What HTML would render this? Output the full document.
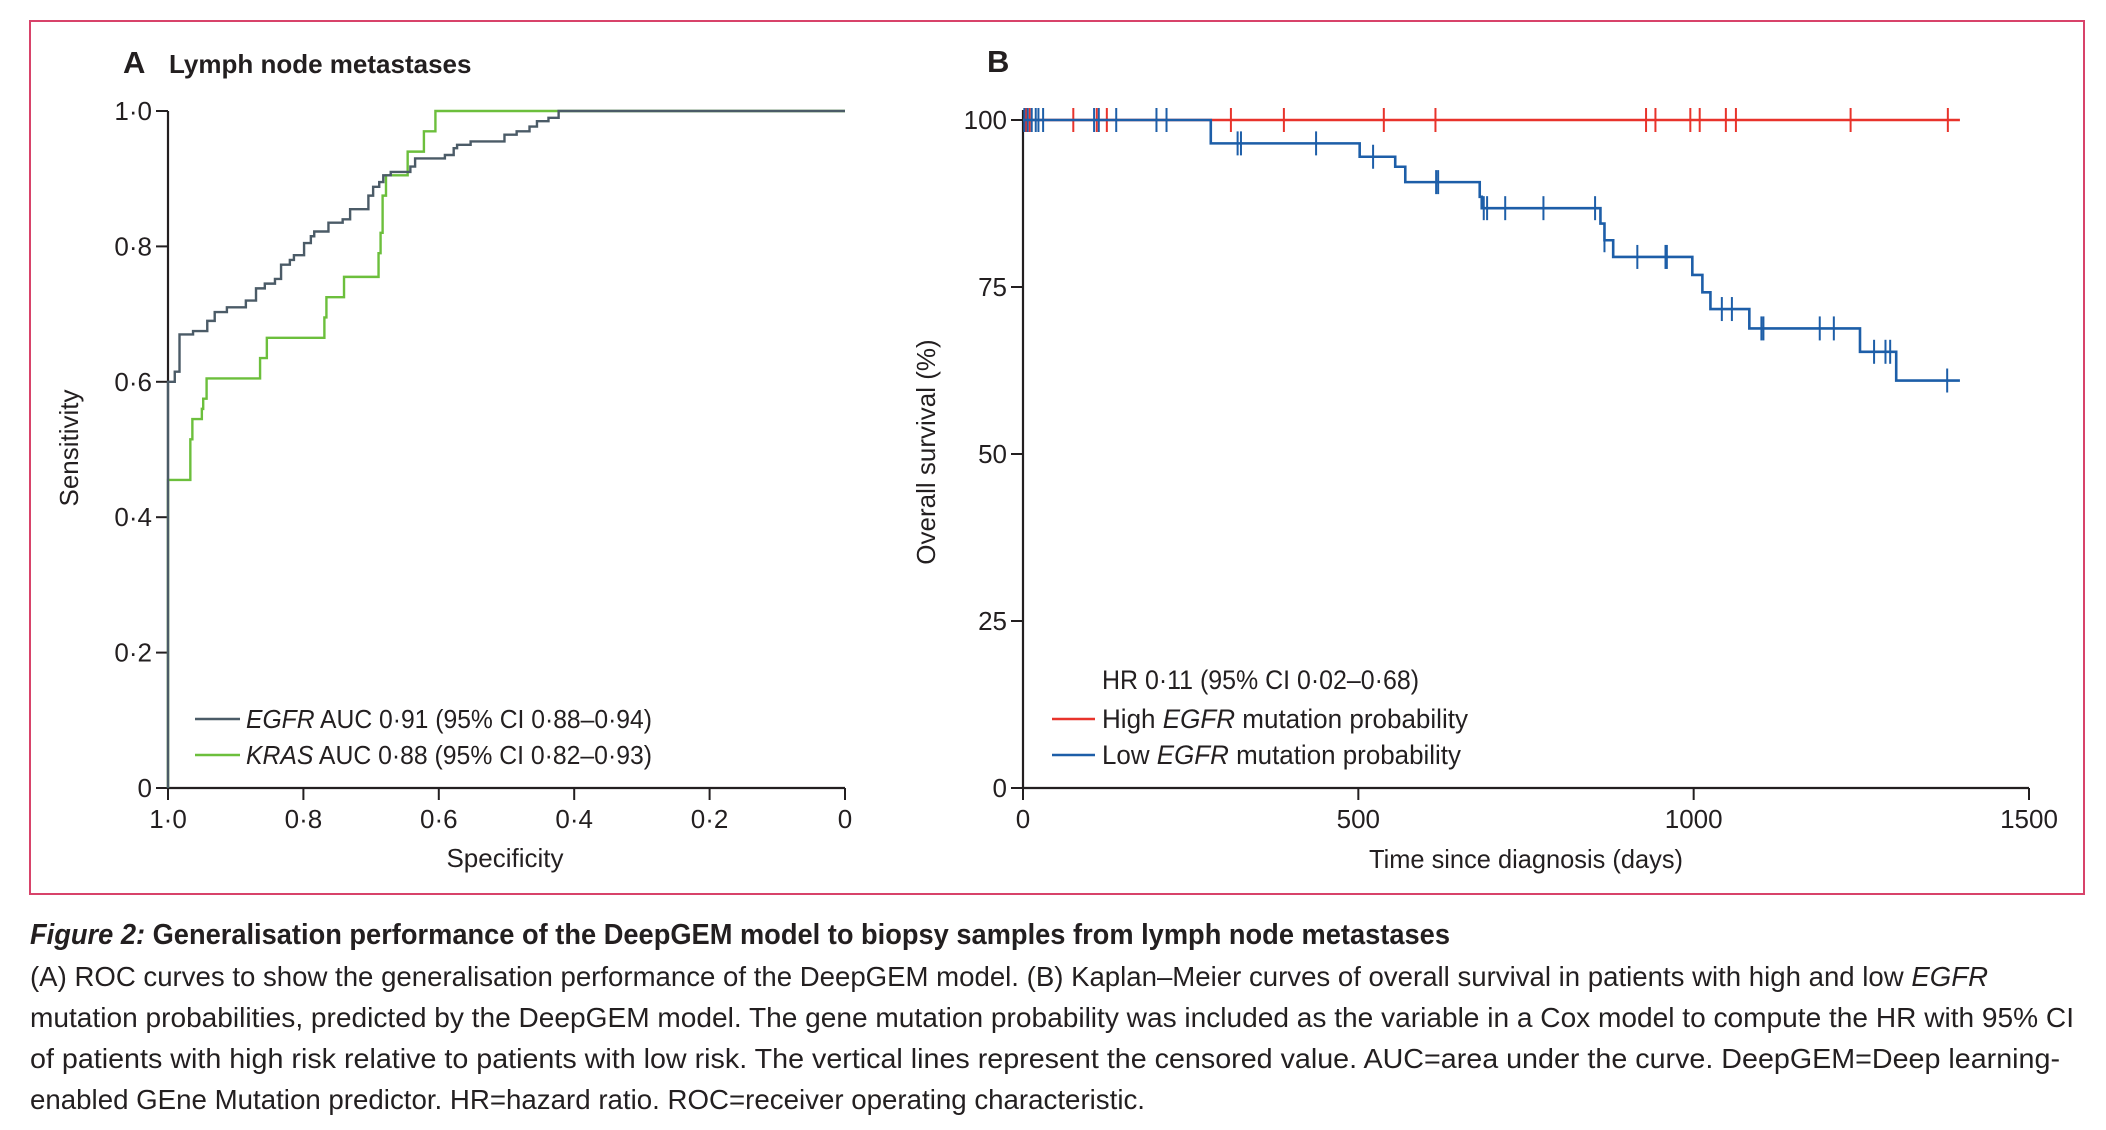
<!DOCTYPE html>
<html><head><meta charset="utf-8"><style>
body{margin:0;background:#fff}
svg{display:block}
text{font-family:"Liberation Sans Narrow","Liberation Sans",sans-serif;fill:#231f20}
</style></head><body>
<svg id="fig" width="2106" height="1130" viewBox="0 0 2106 1130">
<rect x="30" y="21" width="2054" height="873" fill="none" stroke="#d8436a" stroke-width="2"/>
<g id="roc"></g>
<g id="km"></g>
<g>
<text x="30" y="944" font-size="29" font-weight="bold" textLength="1420" lengthAdjust="spacingAndGlyphs"><tspan font-style="italic">Figure 2:</tspan> Generalisation performance of the DeepGEM model to biopsy samples from lymph node metastases</text>
<text x="30" y="986" font-size="28" textLength="1958" lengthAdjust="spacingAndGlyphs">(A) ROC curves to show the generalisation performance of the DeepGEM model. (B) Kaplan–Meier curves of overall survival in patients with high and low <tspan font-style="italic">EGFR</tspan></text>
<text x="30" y="1027" font-size="28" textLength="2044" lengthAdjust="spacingAndGlyphs">mutation probabilities, predicted by the DeepGEM model. The gene mutation probability was included as the variable in a Cox model to compute the HR with 95% CI</text>
<text x="30" y="1068" font-size="28" textLength="2030" lengthAdjust="spacingAndGlyphs">of patients with high risk relative to patients with low risk. The vertical lines represent the censored value. AUC=area under the curve. DeepGEM=Deep learning-</text>
<text x="30" y="1109" font-size="28" textLength="1115" lengthAdjust="spacingAndGlyphs">enabled GEne Mutation predictor. HR=hazard ratio. ROC=receiver operating characteristic.</text>
</g>
</svg>
<script>
// ROC data: specificity steps and sensitivity after each step
const egfrSpec=[1,0.99,0.983,0.963,0.942,0.931,0.913,0.885,0.87,0.857,0.842,0.833,0.82,0.814,0.799,0.789,0.784,0.763,0.742,0.731,0.704,0.697,0.688,0.682,0.671,0.642,0.635,0.591,0.578,0.573,0.553,0.503,0.485,0.466,0.455,0.438,0.423,0];
const egfrSens=[0.6,0.615,0.67,0.675,0.69,0.703,0.71,0.72,0.738,0.745,0.752,0.773,0.78,0.787,0.805,0.815,0.822,0.835,0.84,0.855,0.875,0.888,0.895,0.905,0.91,0.918,0.93,0.935,0.945,0.95,0.955,0.965,0.97,0.977,0.985,0.99,1,1];
const krasSpec=[1,0.967,0.964,0.95,0.948,0.943,0.864,0.854,0.769,0.766,0.74,0.689,0.686,0.683,0.678,0.646,0.622,0.605,0];
const krasSens=[0.455,0.515,0.545,0.56,0.575,0.605,0.635,0.665,0.695,0.725,0.755,0.79,0.82,0.875,0.905,0.94,0.97,1,1];
const rocTicks=[0,0.2,0.4,0.6,0.8,1];
const rocTickLabels=["0","0·2","0·4","0·6","0·8","1·0"];
// KM data
const blueTimes=[0,280,502,555,570,681,684,861,867,880,998,1013,1025,1083,1248,1302,1397];
const blueSurv=[100,96.5,94.5,93,90.7,88.5,86.8,84.5,82,79.5,76.8,74.2,71.7,68.8,65.3,61,61];
const blueCensorT=[2,7,13,19,23,30,106,113,139,199,214,320,325,437,522,616,619,687,692,719,776,853,867,916,958,960,1042,1057,1101,1104,1188,1209,1269,1286,1293,1378];
const redTimes=[0,1397];
const redSurv=[100,100];
const redCensorT=[3,5,10,75,110,125,310,389,538,615,929,943,995,1009,1048,1063,1234,1379];
const kmXTicks=[0,500,1000,1500];
const kmYTicks=[0,25,50,75,100];

const NS="http://www.w3.org/2000/svg";
function mk(parent,tag,attrs,txt){const e=document.createElementNS(NS,tag);for(const k in attrs)e.setAttribute(k,attrs[k]);if(txt!==undefined)e.textContent=txt;parent.appendChild(e);return e;}

// ROC axes
const rx=s=>168+(1-s)*(845-168);
const ry=v=>788-v*(788-111);
const roc=document.getElementById('roc');
let t=mk(roc,'text',{x:123,y:73,'font-size':31,'font-weight':'bold','font-family':'Liberation Sans'},'A');


t=mk(roc,'text',{x:169,y:73,'font-size':26,'font-weight':'bold','font-family':'Liberation Sans'},'Lymph node metastases');


let ax=mk(roc,'path',{d:`M${rx(1)} ${ry(1)}V${ry(0)}H${rx(0)}`,fill:'none',stroke:'#231f20','stroke-width':2.2});


rocTicks.forEach((v,i)=>{
  let l=mk(roc,'line',{x1:rx(1)-12,x2:rx(1),y1:ry(v),y2:ry(v),stroke:'#231f20','stroke-width':2});
  
  
  let tx=mk(roc,'text',{x:rx(1)-16,y:ry(v)+9,'font-size':26,'text-anchor':'end','font-family':'Liberation Sans'},rocTickLabels[i]);
  
  
  let l2=mk(roc,'line',{x1:rx(v),x2:rx(v),y1:ry(0),y2:ry(0)+12,stroke:'#231f20','stroke-width':2});
  
  
  let tx2=mk(roc,'text',{x:rx(v),y:ry(0)+40,'font-size':26,'text-anchor':'middle','font-family':'Liberation Sans'},rocTickLabels[i]);
  
  
});
t=mk(roc,'text',{x:505,y:867,'font-size':26,'text-anchor':'middle','font-family':'Liberation Sans'},'Specificity');


t=mk(roc,'text',{x:0,y:0,'font-size':26,'text-anchor':'middle','font-family':'Liberation Sans',transform:'translate(78,448) rotate(-90)'},'Sensitivity');


function rocPath(sp,se){let d=`M${rx(1)} ${ry(0)}V${ry(se[0])}`;for(let i=1;i<sp.length;i++){d+=`H${rx(sp[i])}V${ry(se[i])}`;}return d;}
let p=mk(roc,'path',{d:rocPath(krasSpec,krasSens),fill:'none',stroke:'#6cbf3c','stroke-width':2.4});


p=mk(roc,'path',{d:rocPath(egfrSpec,egfrSens),fill:'none',stroke:'#4b5b67','stroke-width':2.4});


let lg=mk(roc,'line',{x1:195,x2:240,y1:719,y2:719,stroke:'#4b5b67','stroke-width':2.4});


t=mk(roc,'text',{x:246,y:728,'font-size':26,textLength:406,lengthAdjust:'spacingAndGlyphs'});
t.innerHTML='<tspan font-style="italic">EGFR</tspan> AUC 0·91 (95% CI 0·88–0·94)';


lg=mk(roc,'line',{x1:195,x2:240,y1:755,y2:755,stroke:'#6cbf3c','stroke-width':2.4});


t=mk(roc,'text',{x:246,y:764,'font-size':26,textLength:406,lengthAdjust:'spacingAndGlyphs'});
t.innerHTML='<tspan font-style="italic">KRAS</tspan> AUC 0·88 (95% CI 0·82–0·93)';



// KM
const kx=d=>1023+d*(2029-1023)/1500;
const ky=v=>788-v*(788-120)/100;
const km=document.getElementById('km');
t=mk(km,'text',{x:987,y:72,'font-size':31,'font-weight':'bold','font-family':'Liberation Sans'},'B');


ax=mk(km,'path',{d:`M${kx(0)} ${ky(100)-10}V${ky(0)}H${kx(1500)}`,fill:'none',stroke:'#231f20','stroke-width':2.2});


kmYTicks.forEach(v=>{
  let l=mk(km,'line',{x1:kx(0)-12,x2:kx(0),y1:ky(v),y2:ky(v),stroke:'#231f20','stroke-width':2});
  
  
  let tx=mk(km,'text',{x:kx(0)-16,y:ky(v)+9,'font-size':26,'text-anchor':'end'},String(v));
  
  
});
kmXTicks.forEach(v=>{
  let l=mk(km,'line',{x1:kx(v),x2:kx(v),y1:ky(0),y2:ky(0)+12,stroke:'#231f20','stroke-width':2});
  
  
  let tx=mk(km,'text',{x:kx(v),y:ky(0)+40,'font-size':26,'text-anchor':'middle'},String(v));
  
  
});
t=mk(km,'text',{x:1526,y:868,'font-size':26,'text-anchor':'middle',textLength:314,lengthAdjust:'spacingAndGlyphs'},'Time since diagnosis (days)');


t=mk(km,'text',{x:0,y:0,'font-size':26,'text-anchor':'middle','font-family':'Liberation Sans',transform:'translate(935,452) rotate(-90)'},'Overall survival (%)');


function stepPath(ts,ss){let d=`M${kx(ts[0])} ${ky(ss[0])}`;for(let i=1;i<ts.length;i++){d+=`H${kx(ts[i])}V${ky(ss[i])}`;}return d;}
function survAt(ts,ss,tt){let s=ss[0];for(let i=0;i<ts.length;i++){if(ts[i]<=tt)s=ss[i];}return s;}
p=mk(km,'path',{d:stepPath(redTimes,redSurv),fill:'none',stroke:'#e8332b','stroke-width':2.4});


redCensorT.forEach(c=>{
  const y=ky(survAt(redTimes,redSurv,c));
  let l=mk(km,'line',{x1:kx(c),x2:kx(c),y1:y-12,y2:y+12,stroke:'#e8332b','stroke-width':2});
  
  
});
p=mk(km,'path',{d:stepPath(blueTimes,blueSurv),fill:'none',stroke:'#1d5ea8','stroke-width':2.6});


blueCensorT.forEach(c=>{
  const y=ky(survAt(blueTimes,blueSurv,c));
  let l=mk(km,'line',{x1:kx(c),x2:kx(c),y1:y-12,y2:y+12,stroke:'#1d5ea8','stroke-width':2});
  
  
});
t=mk(km,'text',{x:1102,y:689,'font-size':27,textLength:317,lengthAdjust:'spacingAndGlyphs'},'HR 0·11 (95% CI 0·02–0·68)');


lg=mk(km,'line',{x1:1052,x2:1095,y1:719,y2:719,stroke:'#e8332b','stroke-width':2.4});


t=mk(km,'text',{x:1102,y:728,'font-size':27,textLength:366,lengthAdjust:'spacingAndGlyphs'});
t.innerHTML='High <tspan font-style="italic">EGFR</tspan> mutation probability';


lg=mk(km,'line',{x1:1052,x2:1095,y1:755,y2:755,stroke:'#1d5ea8','stroke-width':2.4});


t=mk(km,'text',{x:1102,y:764,'font-size':27,textLength:359,lengthAdjust:'spacingAndGlyphs'});
t.innerHTML='Low <tspan font-style="italic">EGFR</tspan> mutation probability';


</script>
</body></html>
